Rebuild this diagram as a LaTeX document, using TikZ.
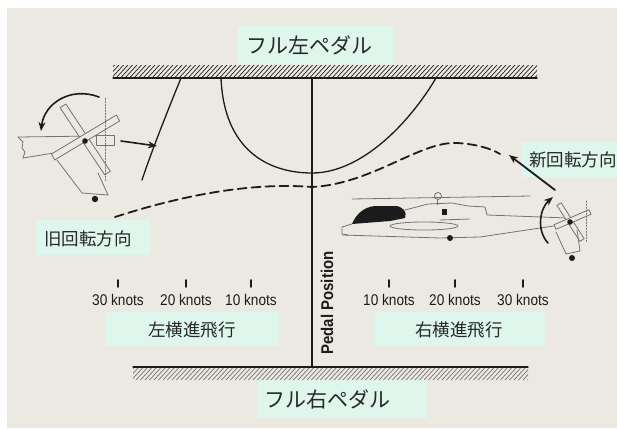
\documentclass[tikz,border=0pt]{standalone}
\usepackage{fontspec}
\setmainfont{Liberation Sans}
\newfontfamily\jp{Noto Sans CJK JP}
\newfontfamily\cond[FakeStretch=0.88]{Liberation Sans}
\usetikzlibrary{arrows.meta}

\definecolor{paper}{RGB}{236,233,227}
\definecolor{mint}{RGB}{222,246,236}
\definecolor{ink}{RGB}{28,28,28}
\definecolor{txt}{RGB}{40,40,40}
\definecolor{heligray}{RGB}{115,115,115}

\tikzset{
  curve/.style={ink, line width=1.3pt},
  path/.style={ink, line width=1.8pt, dash pattern=on 9pt off 5pt},
  heli/.style={heligray, line width=0.8pt},
  bladebox/.style={heligray, line width=0.8pt, fill=paper},
  tick/.style={ink, line width=1.8pt},
  jplabel/.style={font=\jp\fontsize{#1}{#1}\selectfont, text=txt, inner sep=0pt},
  knots/.style={font=\cond\fontsize{15.5}{15.5}\selectfont, text=ink, inner sep=0pt},
  tip/.style={-{Stealth[length=9pt,width=7pt]}},
}

\begin{document}
\begin{tikzpicture}[x=1pt,y=-1pt,line cap=round,line join=round]
\useasboundingbox (0,0) rectangle (617,428);
\fill[white] (0,0) rectangle (617,428);
\fill[paper] (7,8) rectangle (617,428);

% label panels
\fill[mint] (237,26) rectangle (394,64);
\fill[mint] (258,380) rectangle (427,418);
\fill[mint] (106,312) rectangle (279,346);
\fill[mint] (374,312) rectangle (546,346);
\fill[mint] (36,220) rectangle (150,255);
\fill[mint] (522,142) rectangle (617,177);

% top stop (full left pedal)
\begin{scope}
  \clip (113,65) rectangle (537,78);
  \foreach \x in {98,102.5,...,545} \draw[ink, line width=0.7pt] (\x,78) -- (\x+12,65);
\end{scope}
\draw[ink, line width=1.3pt] (113,78) -- (537,78);

% bottom stop (full right pedal)
\begin{scope}
  \clip (133,367) rectangle (528,380);
  \foreach \x in {118,122.5,...,535} \draw[heligray, line width=0.7pt] (\x,380) -- (\x+12,367);
\end{scope}
\draw[ink, line width=1.3pt] (133,367) -- (528,367);

% pedal position axis
\coordinate (ptop) at (312,78);
\coordinate (pbot) at (312,367);
\draw[curve] (ptop) -- (pbot);
\node[rotate=90, font=\cond\bfseries\fontsize{17}{17}\selectfont, text=ink, inner sep=0pt] (pedal) at (327,303) {Pedal Position};

% pedal curves
\coordinate (la) at (181,78);
\coordinate (lb) at (142,180);
\draw[curve] (la) .. controls (168,110) and (152,150) .. (lb);
\coordinate (ua) at (221,78);
\coordinate (ub) at (312,173);
\coordinate (uc) at (436,78);
\draw[curve] (ua) .. controls (224,150) and (268,173) .. (ub)
             .. controls (362,173) and (410,122) .. (uc);

% dashed path
\coordinate (da) at (115,217);
\coordinate (db) at (312,187);
\coordinate (dc) at (457,143);
\coordinate (dd) at (500,154);
\draw[path] (da) .. controls (180,196) and (250,182) .. (db)
            .. controls (372,184) and (420,141) .. (dc)
            .. controls (475,144) and (490,148) .. (dd);

% speed ticks and labels
\foreach \n/\x/\t in {l30/118/30, l20/186/20, l10/251/10, r10/389/10, r20/455/20, r30/523/30}{
  \draw[tick] (\x,280) -- (\x,287);
  \node[knots] (k\n) at (\x,300) {\t\ knots};
}

% Japanese labels
\node[jplabel=21] (fullleft) at (309,45) {フル左ペダル};
\node[jplabel=21] (fullright) at (327,399) {フル右ペダル};
\node[jplabel=17.5] (leftslide) at (192,330) {左横進飛行};
\node[jplabel=17.5] (rightslide) at (459,330) {右横進飛行};
\node[jplabel=17.5] (oldrot) at (88,239) {旧回転方向};
\node[jplabel=17.5] (newrot) at (573,160) {新回転方向};

% ---- left helicopter: tail boom seen from behind ----
\draw[heli] (18,137) -- (23,142) -- (22,148) -- (25,152) -- (23,158);
\draw[heli] (18,137) -- (96,136);
\draw[heli] (23,158) -- (60,152);
\draw[heli] (96,135) rectangle (114,145);
\draw[heli] (57,160) -- (82,193) -- (108,195) -- (98,173);
\draw[bladebox] (65.9,104.1) -- (110.3,171.3) -- (104.7,174.9) -- (60.1,107.7) -- cycle;
\draw[bladebox] (119.6,121.0) -- (54.6,160.0) -- (51.4,154.0) -- (116.4,115.0) -- cycle;
\fill[ink] (85,141) circle (2.8);
\fill[ink] (95,199) circle (3.2);
\draw[heligray, line width=0.6pt, dash pattern=on 1.5pt off 1.5pt] (105,98) -- (105,181);
\coordinate (oa) at (99,97);
\coordinate (ob) at (41,131);
\draw[curve, line width=1.6pt, tip] (oa) .. controls (70,86) and (44,104) .. (ob);

% arrow from old rotation to the pedal curve
\coordinate (aa) at (121,141);
\coordinate (ab) at (157,146);
\draw[curve, line width=1.6pt, tip] (aa) -- (ab);

% ---- right helicopter: side view ----
\draw[heli] (352,199) -- (530,196);
\draw[heli] (438,196) circle (3.5);
\draw[heli] (437,199) -- (437,205);
\fill[ink] (352,224) .. controls (356,214) and (364,207) .. (375,206) -- (397,206)
           .. controls (404,208) and (407,212) .. (405,218) -- (390,221) -- cycle;
\draw[heli] (352,224) -- (342,227) -- (342,234) -- (348,235);
\draw[heli] (342,235) -- (440,238) -- (480,237) -- (567,224);
\draw[heli] (405,210) -- (428,204) -- (452,203) -- (468,206) -- (485,207) -- (487,215) -- (568,218);
\draw[heli] (424,226) ellipse (34 and 4);
\draw[heli] (440,220) -- (470,219);
\fill[ink] (442,209) rectangle (447,215);
\fill[ink] (450,238) circle (3);
% tail rotor
\draw[bladebox] (561.1,202.7) -- (584.1,238.7) -- (579.9,241.4) -- (556.9,205.4) -- cycle;
\draw[bladebox] (591,214.3) -- (556,229.3) -- (554,224.7) -- (589,209.7) -- cycle;
\draw[heli] (556,232) -- (566,254) -- (580,251) -- (577,230);
\fill[ink] (570,222) circle (2.8);
\fill[ink] (572,258) circle (3);
\draw[heligray, line width=0.6pt, dash pattern=on 1.5pt off 1.5pt] (586,201) -- (586,243);
\coordinate (na) at (548,243);
\coordinate (nb) at (553,197);
\draw[curve, line width=1.6pt, tip] (na) .. controls (536,230) and (540,208) .. (nb);

% arrow towards the new rotation label
\coordinate (ra) at (555,190);
\coordinate (rb) at (509,155);
\draw[curve, line width=1.8pt, tip] (ra) -- (rb);
\end{tikzpicture}
\end{document}
